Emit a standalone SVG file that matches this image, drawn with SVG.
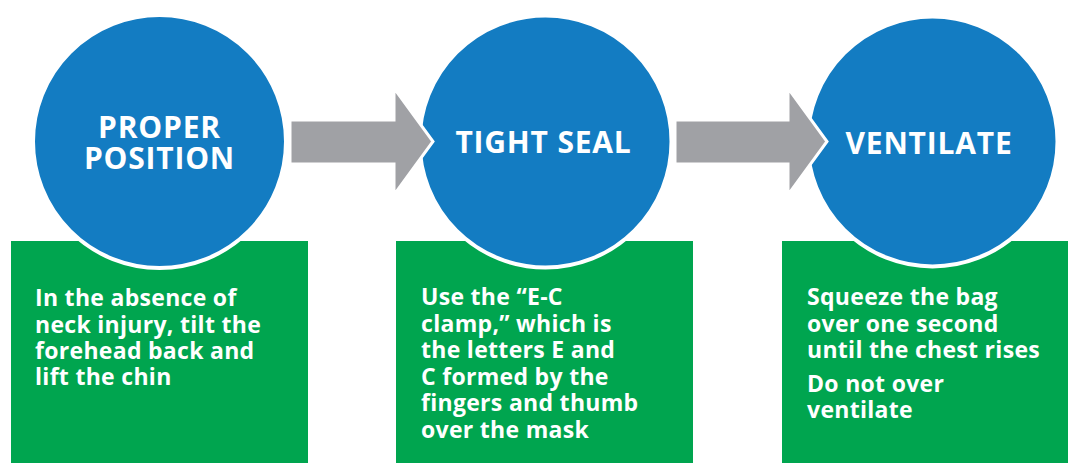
<svg xmlns="http://www.w3.org/2000/svg" width="1068" height="463" viewBox="0 0 1068 463">
<style>
.box{fill:#00A54F}
.circ{fill:#137CC2;stroke:#FFFFFF;stroke-width:4}
.arrow{fill:#A0A1A5;stroke:#FFFFFF;stroke-width:3;stroke-linejoin:miter}
.title{font-family:"Open Sans","Liberation Sans",sans-serif;font-weight:700;font-size:30px;letter-spacing:0.8px;fill:#FFFFFF;text-anchor:middle}
.body{font-family:"Open Sans","Liberation Sans",sans-serif;font-weight:700;font-size:23px;letter-spacing:0.3px;fill:#FFFFFF}
</style>
<rect width="1068" height="463" fill="#FFFFFF"/>
<g id="node-proper-position">
<rect class="box" x="11" y="241" width="297" height="222"/>
<circle class="circ" cx="159.5" cy="141.5" r="126.5"/>
<text class="title" x="159.5" y="138">PROPER</text>
<text class="title" x="159.5" y="169">POSITION</text>
<text class="body"><tspan x="35" y="306">In the absence of</tspan><tspan x="35" y="333">neck injury, tilt the</tspan><tspan x="35" y="359">forehead back and</tspan><tspan x="35" y="385">lift the chin</tspan></text>
</g>
<g id="node-tight-seal">
<rect class="box" x="396" y="241" width="297" height="222"/>
<circle class="circ" cx="545.5" cy="141.5" r="126"/>
<text class="title" x="543.5" y="153">TIGHT SEAL</text>
<text class="body"><tspan x="421" y="305">Use the “E-C</tspan><tspan x="421" y="332">clamp,” which is</tspan><tspan x="421" y="358">the letters E and</tspan><tspan x="421" y="385">C formed by the</tspan><tspan x="421" y="411">fingers and thumb</tspan><tspan x="421" y="438">over the mask</tspan></text>
</g>
<g id="node-ventilate">
<rect class="box" x="782" y="241" width="286" height="222"/>
<circle class="circ" cx="932.5" cy="141.5" r="125"/>
<text class="title" x="929" y="154">VENTILATE</text>
<text class="body"><tspan x="807" y="305">Squeeze the bag</tspan><tspan x="807" y="332">over one second</tspan><tspan x="807" y="358">until the chest rises</tspan><tspan x="807" y="392">Do not over</tspan><tspan x="807" y="418">ventilate</tspan></text>
</g>
<g id="connectors">
<polygon class="arrow" points="290,120 394,120 394,88 433,141.5 394,195 394,164 290,164"/>
<polygon class="arrow" points="675,120 788,120 788,88 827,141.5 788,195 788,164 675,164"/>
</g>
</svg>
